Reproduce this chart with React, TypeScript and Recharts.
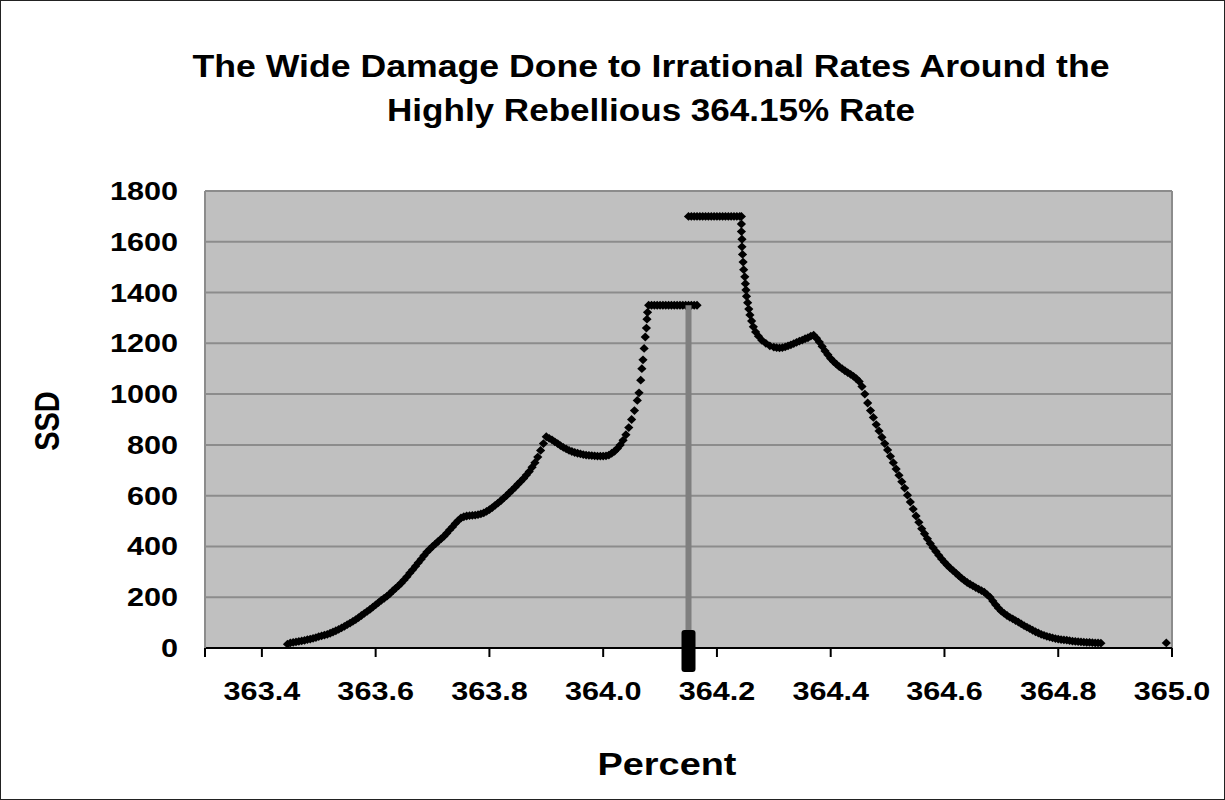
import React from 'react';
import {
  ScatterChart,
  Scatter,
  XAxis,
  YAxis,
  CartesianGrid,
  ReferenceLine,
} from 'recharts';

// readings: [percent, SSD]
const leftRise: [number, number][] = [
  [363.445, 15], [363.45, 20], [363.455, 22], [363.46, 24], [363.465, 26], [363.47, 28],
  [363.475, 30], [363.48, 33], [363.485, 35], [363.49, 38], [363.495, 41], [363.5, 45],
  [363.505, 48], [363.51, 51], [363.515, 54], [363.52, 58], [363.525, 63], [363.53, 68],
  [363.535, 73], [363.54, 79], [363.545, 85], [363.55, 92], [363.555, 98], [363.56, 105],
  [363.565, 112], [363.57, 120], [363.575, 128], [363.58, 136], [363.585, 144], [363.59, 152],
  [363.595, 161], [363.6, 170], [363.605, 179], [363.61, 188], [363.615, 196], [363.62, 204],
  [363.625, 214], [363.63, 225], [363.635, 235], [363.64, 245], [363.645, 256], [363.65, 268],
  [363.655, 281], [363.66, 295], [363.665, 308], [363.67, 322], [363.675, 336], [363.68, 350],
  [363.685, 364], [363.69, 378], [363.695, 389], [363.7, 400], [363.705, 410], [363.71, 420],
  [363.715, 430], [363.72, 440], [363.725, 452], [363.73, 465], [363.735, 477], [363.74, 490],
  [363.745, 502],
];

const leftHump: [number, number][] = [
  [363.75, 512], [363.755, 517], [363.76, 520], [363.765, 521], [363.77, 522], [363.775, 523],
  [363.78, 525], [363.785, 528], [363.79, 532], [363.795, 538], [363.8, 545], [363.805, 553],
  [363.81, 562], [363.815, 571], [363.82, 580], [363.825, 590], [363.83, 600], [363.835, 611],
  [363.84, 622], [363.845, 633], [363.85, 645], [363.855, 656], [363.86, 668], [363.865, 681],
  [363.87, 695], [363.875, 712], [363.88, 730], [363.885, 752], [363.89, 778], [363.895, 805],
  [363.9, 832], [363.905, 826], [363.91, 820], [363.915, 812], [363.92, 805], [363.925, 797],
  [363.93, 790], [363.935, 784], [363.94, 778], [363.945, 774], [363.95, 770], [363.955, 767],
  [363.96, 765], [363.965, 762], [363.97, 760], [363.975, 759], [363.98, 758], [363.985, 757],
  [363.99, 756], [363.995, 756], [364.0, 756], [364.005, 757], [364.01, 760], [364.015, 767],
  [364.02, 775], [364.025, 786], [364.03, 800], [364.035, 818], [364.04, 840], [364.045, 868],
  [364.05, 900], [364.055, 935], [364.06, 975],
];

const steepRise: [number, number][] = [
  [364.063, 1005], [364.066, 1055], [364.068, 1100], [364.07, 1135], [364.072, 1180],
  [364.074, 1225], [364.076, 1260], [364.077, 1295], [364.078, 1322],
];

const lowerPlateau: [number, number][] = [
  [364.08, 1350], [364.085, 1350], [364.09, 1350], [364.095, 1350], [364.1, 1350],
  [364.105, 1350], [364.11, 1350], [364.115, 1350], [364.12, 1350], [364.125, 1350],
  [364.13, 1350], [364.135, 1350], [364.14, 1350], [364.145, 1350], [364.15, 1350],
  [364.155, 1350], [364.16, 1350], [364.165, 1350],
];

const upperPlateau: [number, number][] = [
  [364.15, 1700], [364.155, 1700], [364.16, 1700], [364.165, 1700], [364.17, 1700],
  [364.175, 1700], [364.18, 1700], [364.185, 1700], [364.19, 1700], [364.195, 1700],
  [364.2, 1700], [364.205, 1700], [364.21, 1700], [364.215, 1700], [364.22, 1700],
  [364.225, 1700], [364.23, 1700], [364.235, 1700], [364.24, 1700], [364.243, 1700],
];

const steepFall: [number, number][] = [
  [364.243, 1670], [364.243, 1640], [364.244, 1610], [364.244, 1580], [364.245, 1550],
  [364.246, 1520], [364.247, 1490], [364.249, 1462], [364.25, 1435], [364.251, 1410],
  [364.252, 1385], [364.254, 1360], [364.256, 1335], [364.258, 1312], [364.261, 1288],
  [364.264, 1265], [364.268, 1245], [364.273, 1228], [364.279, 1212], [364.286, 1200],
  [364.293, 1190],
];

const rightHump: [number, number][] = [
  [364.3, 1185], [364.305, 1183], [364.31, 1182], [364.315, 1183], [364.32, 1186],
  [364.325, 1190], [364.33, 1194], [364.335, 1199], [364.34, 1204], [364.345, 1209],
  [364.35, 1213], [364.355, 1218], [364.36, 1222], [364.365, 1228], [364.37, 1232],
  [364.375, 1220], [364.38, 1205], [364.385, 1188], [364.39, 1170], [364.395, 1155],
  [364.4, 1140], [364.405, 1128], [364.41, 1118], [364.415, 1108], [364.42, 1100],
  [364.425, 1092], [364.43, 1085], [364.435, 1078], [364.44, 1070], [364.445, 1061],
  [364.45, 1050], [364.455, 1030], [364.46, 1000],
];

const rightTail: [number, number][] = [
  [364.465, 965], [364.47, 935], [364.475, 908], [364.48, 880], [364.485, 855], [364.49, 830],
  [364.495, 805], [364.5, 780], [364.505, 755], [364.51, 730], [364.515, 705], [364.52, 680],
  [364.525, 655], [364.53, 630], [364.535, 602], [364.54, 575], [364.545, 547], [364.55, 520],
  [364.555, 495], [364.56, 470], [364.565, 450], [364.57, 430], [364.575, 412], [364.58, 395],
  [364.585, 380], [364.59, 365], [364.595, 351], [364.6, 338], [364.605, 326], [364.61, 315],
  [364.615, 305], [364.62, 295], [364.625, 285], [364.63, 275], [364.635, 266], [364.64, 258],
  [364.645, 251], [364.65, 245], [364.655, 238], [364.66, 232], [364.665, 226], [364.67, 220],
  [364.675, 210], [364.68, 200], [364.685, 185], [364.69, 170], [364.695, 157], [364.7, 145],
  [364.705, 136], [364.71, 128], [364.715, 121], [364.72, 115], [364.725, 108], [364.73, 102],
  [364.735, 95], [364.74, 88], [364.745, 82], [364.75, 76], [364.755, 70], [364.76, 64],
  [364.765, 59], [364.77, 54], [364.775, 50], [364.78, 46], [364.785, 43], [364.79, 40],
  [364.795, 37], [364.8, 35], [364.805, 33], [364.81, 32], [364.815, 31], [364.82, 29],
  [364.825, 27], [364.83, 26], [364.835, 25], [364.84, 24], [364.845, 23], [364.85, 22],
  [364.855, 22], [364.86, 21], [364.865, 20], [364.87, 20], [364.875, 19],
];

const strayPoint: [number, number][] = [[364.99, 20]];

// vertical marker at the 364.15% rate
const rateMarker: [number, number][] = [[364.15, 0], [364.15, 1350]];

const xTicks = [363.3, 363.4, 363.6, 363.8, 364.0, 364.2, 364.4, 364.6, 364.8, 365.0];
const yTicks = [0, 200, 400, 600, 800, 1000, 1200, 1400, 1600, 1800];

const titleLines = [
  'The Wide Damage Done to Irrational Rates Around the',
  'Highly Rebellious 364.15% Rate',
];

const FONT = '"Liberation Sans", Arial, Helvetica, sans-serif';

const toPts = (arr: [number, number][]) => arr.map(([x, y]) => ({ x, y }));

const ssdPoints = toPts([
  ...leftRise,
  ...leftHump,
  ...steepRise,
  ...lowerPlateau,
  ...upperPlateau,
  ...steepFall,
  ...rightHump,
  ...rightTail,
  ...strayPoint,
]);
const markerPoints = toPts(rateMarker);

const Diamond = (props: any) => {
  const { cx, cy } = props;
  if (cx == null || cy == null) return <g />;
  return (
    <polygon
      points={`${cx - 4.6},${cy} ${cx},${cy - 4.4} ${cx + 4.6},${cy} ${cx},${cy + 4.4}`}
      fill="#000"
    />
  );
};

const BarMarker = (props: any) => {
  const { cx, cy, payload } = props;
  if (cx == null || cy == null || payload.y !== 0) return <g />;
  return <rect x={cx - 7} y={cy - 18} width={14} height={42} rx={3} fill="#000" />;
};

const XTick = (props: any) => {
  const { x, y, payload } = props;
  if (payload.value < 363.35) return <g />;
  return (
    <g transform={`translate(${x},${y})`}>
      <text
        transform="scale(1.2,1)"
        textAnchor="middle"
        dy={18}
        fontSize={25.5}
        fontWeight="bold"
        fontFamily={FONT}
        fill="#000"
      >
        {payload.value.toFixed(1)}
      </text>
    </g>
  );
};

const YTick = (props: any) => {
  const { x, y, payload } = props;
  return (
    <g transform={`translate(${x},${y})`}>
      <text
        transform="scale(1.2,1)"
        textAnchor="end"
        dy={9}
        fontSize={25.5}
        fontWeight="bold"
        fontFamily={FONT}
        fill="#000"
      >
        {payload.value}
      </text>
    </g>
  );
};

export default function App() {
  return (
    <div style={{ position: 'relative', width: 1225, height: 800, background: '#fff' }}>
      <style>{'body{margin:0}'}</style>
      <ScatterChart
        width={1225}
        height={800}
        margin={{ top: 191, right: 53, bottom: 112, left: 145 }}
      >
        <CartesianGrid
          horizontal
          vertical={false}
          fill="#c0c0c0"
          fillOpacity={1}
          stroke="#8c8c8c"
          strokeWidth={2}
        />
        <XAxis
          dataKey="x"
          type="number"
          domain={[363.3, 365.0]}
          ticks={xTicks}
          interval={0}
          height={40}
          tickSize={9}
          tickMargin={25}
          axisLine={{ stroke: '#000', strokeWidth: 2 }}
          tickLine={{ stroke: '#000', strokeWidth: 2 }}
          tick={<XTick />}
        />
        <YAxis
          dataKey="y"
          type="number"
          domain={[0, 1800]}
          ticks={yTicks}
          interval={0}
          width={60}
          tickSize={0}
          tickMargin={27}
          axisLine={{ stroke: '#8c8c8c', strokeWidth: 2 }}
          tickLine={false}
          tick={<YTick />}
        />
        <ReferenceLine x={365.0} stroke="#8c8c8c" strokeWidth={2} />
        <Scatter
          data={ssdPoints}
          shape={<Diamond />}
          isAnimationActive={false}
        />
        <Scatter
          data={markerPoints}
          line={{ stroke: '#7f7f7f', strokeWidth: 6 }}
          lineType="joint"
          shape={<BarMarker />}
          isAnimationActive={false}
        />
      </ScatterChart>
      <svg
        width={1225}
        height={800}
        style={{ position: 'absolute', left: 0, top: 0, pointerEvents: 'none' }}
      >
        <text
          x={651}
          y={77}
          textAnchor="middle"
          fontFamily={FONT}
          fontWeight="bold"
          fontSize={31}
          textLength={917}
          lengthAdjust="spacingAndGlyphs"
          fill="#000"
        >
          {titleLines[0]}
        </text>
        <text
          x={651}
          y={121}
          textAnchor="middle"
          fontFamily={FONT}
          fontWeight="bold"
          fontSize={31}
          textLength={528}
          lengthAdjust="spacingAndGlyphs"
          fill="#000"
        >
          {titleLines[1]}
        </text>
        <text
          x={667}
          y={775}
          textAnchor="middle"
          fontFamily={FONT}
          fontWeight="bold"
          fontSize={31}
          textLength={139}
          lengthAdjust="spacingAndGlyphs"
          fill="#000"
        >
          Percent
        </text>
        <g transform="translate(47,421) scale(1.22,1) rotate(-90)">
          <text
            x={0}
            y={0}
            textAnchor="middle"
            dominantBaseline="central"
            fontFamily={FONT}
            fontWeight="bold"
            fontSize={29}
            fill="#000"
          >
            SSD
          </text>
        </g>
      </svg>
      <div
        style={{
          position: 'absolute',
          inset: 0,
          border: '1px solid #222',
          pointerEvents: 'none',
        }}
      />
    </div>
  );
}
